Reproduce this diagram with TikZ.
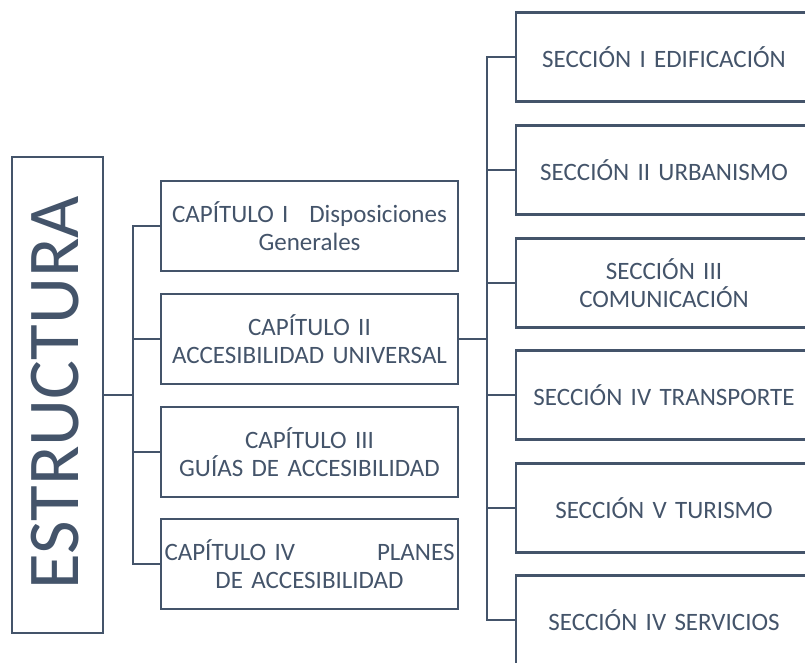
\documentclass[tikz,border=0pt]{standalone}
\usepackage{fontspec}
\setmainfont{Carlito}
\definecolor{slate}{HTML}{44546A}
\begin{document}
\begin{tikzpicture}[x=1pt,y=-1pt,
  box/.style={draw=slate, line width=2.4pt, text=slate, align=center, inner sep=0pt,
    font=\fontsize{25}{28}\selectfont},
  chap/.style={box, minimum width=297pt, minimum height=90pt, text width=292pt},
  sec/.style={box, minimum width=296pt, minimum height=89pt, text width=290pt},
  link/.style={draw=slate, line width=2.6pt}]
\useasboundingbox (0,0) rectangle (805,662);
\clip (0,0) rectangle (805,662);
% root
\node[draw=slate, line width=2.4pt, minimum width=91pt, minimum height=476pt, inner sep=0pt] (E) at (57.5,395) {};
\node[rotate=90, text=slate, inner sep=0pt, font=\fontsize{73}{73}\selectfont] (Et) at (55.5,392.5) {ESTRUCTURA};
% chapters
\node[chap] (c1) at (309.5,226) {CAPÍTULO I\hspace{0.5em} Disposiciones\\Generales};
\node[chap] (c2) at (309.5,339) {CAPÍTULO II\\ACCESIBILIDAD UNIVERSAL};
\node[chap] (c3) at (309.5,452) {CAPÍTULO III\\GUÍAS DE ACCESIBILIDAD};
\node[chap] (c4) at (309.5,564) {\makebox[290pt]{CAPÍTULO IV\hfill PLANES}\\DE ACCESIBILIDAD};
% sections
\node[sec] (s1) at (664,57) {SECCIÓN I EDIFICACIÓN};
\node[sec] (s2) at (664,170) {SECCIÓN II URBANISMO};
\node[sec] (s3) at (664,283) {SECCIÓN III\\COMUNICACIÓN};
\node[sec] (s4) at (664,395) {SECCIÓN IV TRANSPORTE};
\node[sec] (s5) at (664,508) {SECCIÓN V TURISMO};
\node[sec] (s6) at (664,620) {SECCIÓN IV SERVICIOS};
% left connectors
\coordinate (t1) at (133,395);
\draw[link] (E.east) -- (t1);
\draw[link] (c1.west) -| (t1) |- (c4.west);
\draw[link] (c2.west) -- (c2.west -| t1);
\draw[link] (c3.west) -- (c3.west -| t1);
% right connectors
\coordinate (t2) at (487,339);
\draw[link] (c2.east) -- (t2);
\draw[link] (s1.west) -| (t2) |- (s6.west);
\foreach \s in {s2,s3,s4,s5}{\draw[link] (\s.west) -- (\s.west -| t2);}
\end{tikzpicture}
\end{document}
